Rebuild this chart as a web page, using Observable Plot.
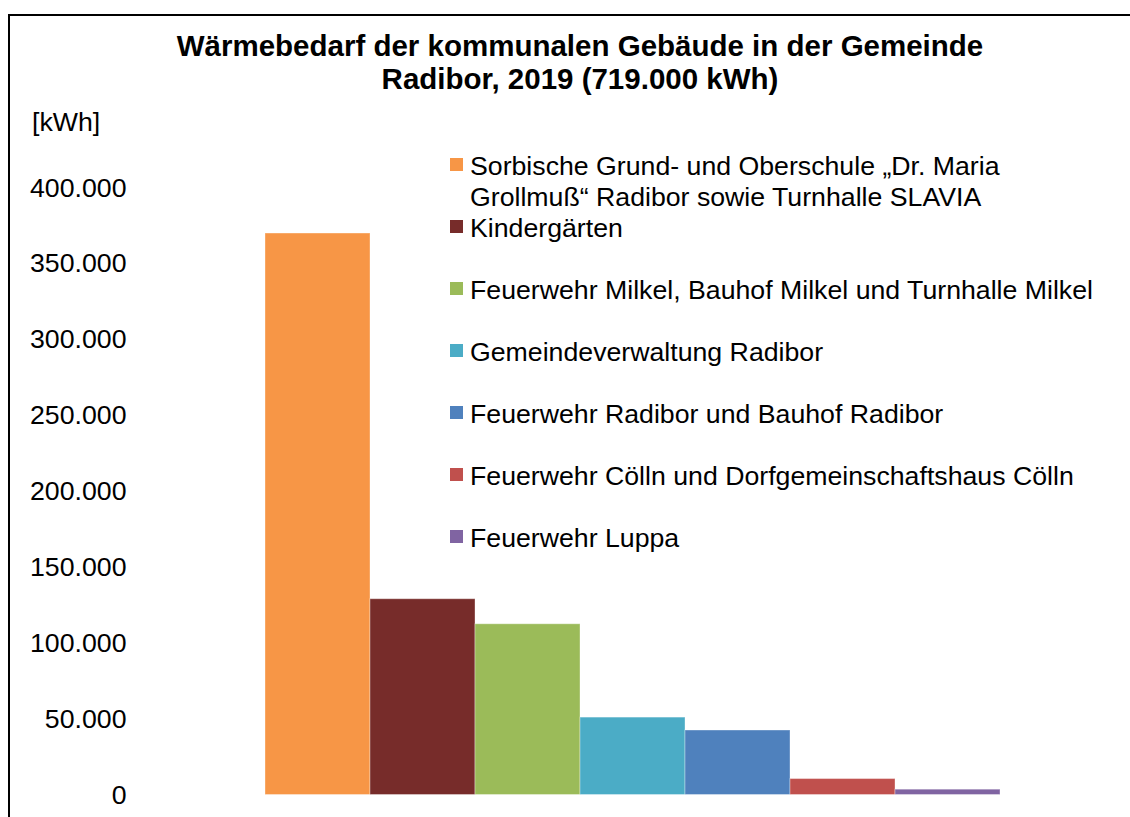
<!DOCTYPE html>
<html>
<head>
<meta charset="utf-8">
<script src="https://cdn.jsdelivr.net/npm/d3@7"></script>
<script src="https://cdn.jsdelivr.net/npm/@observablehq/plot@0.6"></script>
<style>
  body { margin: 0; background: #fff; }
  #wrap { position: relative; width: 1130px; height: 817px; overflow: hidden;
          font-family: "Liberation Sans", Arial, sans-serif; color: #000; background: #fff; }
  #frame { position: absolute; left: 8px; top: 14px; width: 1200px; height: 900px;
           border-left: 2px solid #000; border-top: 2px solid #000; box-sizing: border-box; }
  #chart { position: absolute; left: 0; top: 0; }
  #title { position: absolute; left: 0; width: 1160px; top: 29px; text-align: center;
           font-weight: bold; font-size: 29.5px; line-height: 33px; }
  #unit { position: absolute; left: 32px; top: 107px; font-size: 26.7px; line-height: 31px; }
  .leg { position: absolute; left: 450px; font-size: 26.7px; line-height: 31px; white-space: nowrap; }
  .leg .sw { position: absolute; left: 0; top: 7.5px; width: 12.5px; height: 12.5px; }
  .leg .tx { position: absolute; left: 20px; top: 0; }
</style>
</head>
<body>
<div id="wrap">
  <div id="frame"></div>
  <div id="chart"></div>
  <div id="title">Wärmebedarf der kommunalen Gebäude in der Gemeinde<br>Radibor, 2019 (719.000 kWh)</div>
  <div id="unit">[kWh]</div>
  <div id="legend"></div>
</div>
<script>
// ---- data ----
const categories = [
  "Sorbische Grund- und Oberschule „Dr. Maria\nGrollmuß“ Radibor sowie Turnhalle SLAVIA",
  "Kindergärten",
  "Feuerwehr Milkel, Bauhof Milkel und Turnhalle Milkel",
  "Gemeindeverwaltung Radibor",
  "Feuerwehr Radibor und Bauhof Radibor",
  "Feuerwehr Cölln und Dorfgemeinschaftshaus Cölln",
  "Feuerwehr Luppa"
];
const values = [370000, 129000, 112500, 51000, 42500, 10500, 3500];
const colors = ["#F79646", "#772C2A", "#9BBB59", "#4BACC6", "#4F81BD", "#C0504D", "#8064A2"];
const yTicks = [0, 50000, 100000, 150000, 200000, 250000, 300000, 350000, 400000];

const rows = categories.map((c, i) => ({category: c, value: values[i], color: colors[i]}));

const de = d3.formatLocale({decimal: ",", thousands: ".", grouping: [3], currency: ["", " €"]});
const fmt = de.format(",d");

const plot = Plot.plot({
  width: 1130,
  height: 817,
  marginLeft: 264,
  marginRight: 130,
  marginTop: 187.5,
  marginBottom: 22.5,
  style: {fontFamily: "'Liberation Sans', Arial, sans-serif", fontSize: "26.7px", color: "#000", background: "transparent", overflow: "visible"},
  x: {domain: categories, padding: 0, axis: null},
  y: {domain: [0, 400000], axis: null},
  marks: [
    Plot.barY(rows, {x: "category", y: "value", fill: "color", inset: 0,
                     stroke: "#ffffff", strokeOpacity: 0.35, strokeWidth: 1}),
    Plot.axisY({ticks: yTicks, tickFormat: fmt, tickSize: 0, tickPadding: 138,
                fontSize: 26.7, fill: "#000", label: null})
  ]
});
document.getElementById("chart").appendChild(plot);

// ---- legend ----
const legend = document.getElementById("legend");
const legendTop0 = 150.5, legendStep = 62;
categories.forEach((c, i) => {
  const d = document.createElement("div");
  d.className = "leg";
  d.style.top = (legendTop0 + i * legendStep) + "px";
  const sw = document.createElement("span");
  sw.className = "sw";
  sw.style.background = colors[i];
  const tx = document.createElement("span");
  tx.className = "tx";
  tx.style.whiteSpace = "pre";
  tx.textContent = c;
  d.appendChild(sw);
  d.appendChild(tx);
  legend.appendChild(d);
});
</script>
</body>
</html>
